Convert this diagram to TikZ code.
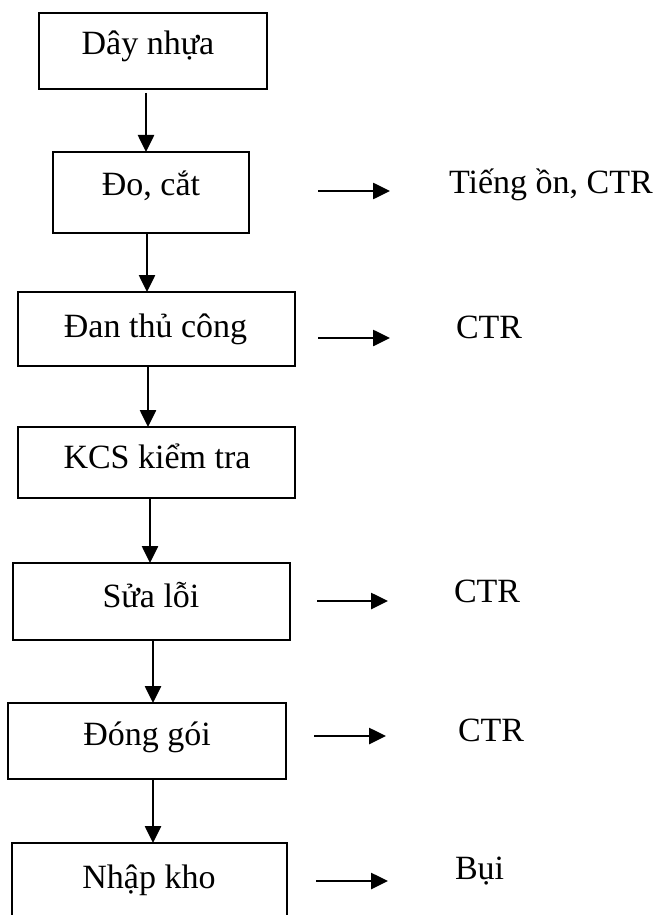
\documentclass[tikz,border=0pt]{standalone}
\usepackage{fontspec}
\setmainfont{Liberation Serif}
\usetikzlibrary{arrows.meta}

\begin{document}
\begin{tikzpicture}[x=1pt, y=-1pt,
  box/.style={draw=black, line width=2.4pt, inner sep=0pt, outer sep=0pt},
  txt/.style={inner sep=0pt, outer sep=0pt, font=\fontsize{34}{37}\selectfont},
  flow/.style={line width=2.6pt, -{Triangle[length=17pt,width=16pt]}}]

\useasboundingbox (0,0) rectangle (659,915);
\begin{scope}
\clip (0,0) rectangle (659,915);

% process boxes
\node[box, minimum width=228pt, minimum height=76pt] (b1) at (153,51)    {};
\node[box, minimum width=196pt, minimum height=81pt] (b2) at (151,192.5) {};
\node[box, minimum width=277pt, minimum height=74pt] (b3) at (156.5,329) {};
\node[box, minimum width=277pt, minimum height=71pt] (b4) at (156.5,462.5) {};
\node[box, minimum width=277pt, minimum height=77pt] (b5) at (151.5,601.5) {};
\node[box, minimum width=278pt, minimum height=76pt] (b6) at (147,741)   {};
\node[box, minimum width=275pt, minimum height=90pt] (b7) at (149.5,888) {};

% box captions
\node[txt, anchor=base] (t1) at (148,55)    {Dây nhựa};
\node[txt, anchor=base] (t2) at (151,195)   {Đo, cắt};
\node[txt, anchor=base] (t3) at (155.5,337) {Đan thủ công};
\node[txt, anchor=base] (t4) at (157,468)   {KCS kiểm tra};
\node[txt, anchor=base] (t5) at (151,607)   {Sửa lỗi};
\node[txt, anchor=base] (t6) at (147,745)   {Đóng gói};
\node[txt, anchor=base] (t7) at (149,888)   {Nhập kho};

% main flow
\coordinate (s1) at ([xshift=-7pt,yshift=-4pt]b1.south);
\coordinate (s2) at ([xshift=-4pt]b2.south);
\coordinate (s3) at ([xshift=-8.5pt]b3.south);
\coordinate (s4) at ([xshift=-6.5pt]b4.south);
\coordinate (s5) at ([xshift=1.5pt]b5.south);
\coordinate (s6) at ([xshift=6pt]b6.south);
\draw[flow] (s1) -- (s1 |- b2.north);
\draw[flow] (s2) -- (s2 |- b3.north);
\draw[flow] (s3) -- (s3 |- b4.north);
\draw[flow] (s4) -- (s4 |- b5.north);
\draw[flow] (s5) -- (s5 |- b6.north);
\draw[flow] (s6) -- (s6 |- b7.north);

% waste outputs
\node[txt, anchor=base west] (w2) at (449,193) {Tiếng ồn, CTR};
\node[txt, anchor=base west] (w3) at (456,338) {CTR};
\node[txt, anchor=base west] (w5) at (454,602) {CTR};
\node[txt, anchor=base west] (w6) at (458,741) {CTR};
\node[txt, anchor=base west] (w7) at (455,879) {Bụi};

\coordinate (o2a) at (318,191); \coordinate (o2b) at (390,191);
\coordinate (o3a) at (318,338); \coordinate (o3b) at (390,338);
\coordinate (o5a) at (317,601); \coordinate (o5b) at (388,601);
\coordinate (o6a) at (314,736); \coordinate (o6b) at (386,736);
\coordinate (o7a) at (316,881); \coordinate (o7b) at (388,881);
\draw[flow] (o2a) -- (o2b);
\draw[flow] (o3a) -- (o3b);
\draw[flow] (o5a) -- (o5b);
\draw[flow] (o6a) -- (o6b);
\draw[flow] (o7a) -- (o7b);
\end{scope}
\end{tikzpicture}
\end{document}
